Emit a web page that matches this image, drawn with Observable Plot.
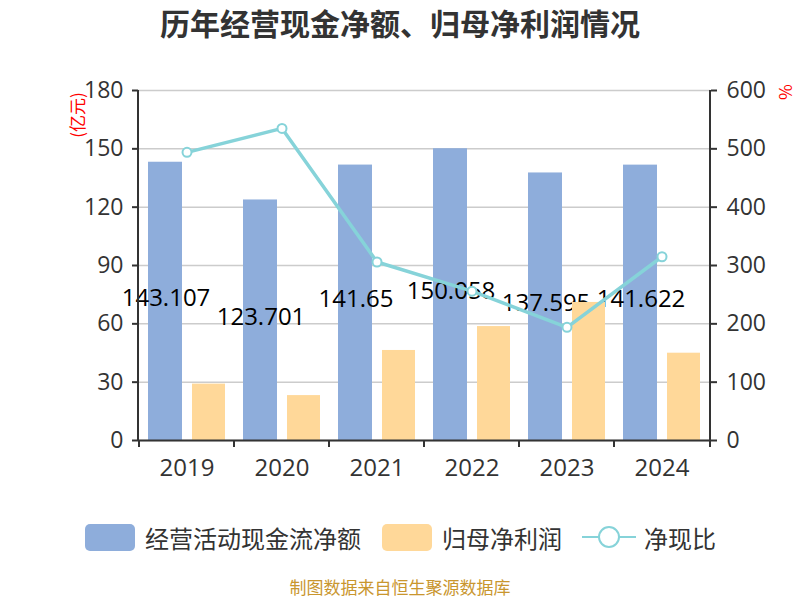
<!DOCTYPE html>
<html>
<head>
<meta charset="utf-8">
<script src="https://cdn.jsdelivr.net/npm/d3@7"></script>
<script src="https://cdn.jsdelivr.net/npm/@observablehq/plot@0.6"></script>
<style>
  body { margin: 0; background: #fff; font-family: "Open Sans", "Noto Sans CJK SC", sans-serif; }
  #wrap { position: relative; width: 800px; height: 600px; overflow: hidden; }
  #title { position: absolute; left: 0; top: 2px; width: 800px; text-align: center; font-size: 30px; font-weight: bold; color: #333; font-family: "Noto Sans CJK SC", sans-serif; line-height: 40px; }
  #chart { position: absolute; left: 0; top: 60px; }
  .leg { position: absolute; top: 522px; height: 30px; display: flex; align-items: center; font-size: 24px; color: #333; font-family: "Noto Sans CJK SC", sans-serif; }
  .sw { width: 50px; height: 27px; border-radius: 5px; margin-right: 10px; }
  .unit { position: absolute; color: #ff0000; font-size: 17px; font-family: "Noto Sans CJK SC", sans-serif; line-height: 19px; white-space: nowrap; }
  #caption { position: absolute; left: 0; top: 577px; width: 800px; text-align: center; font-size: 17px; color: #c9962e; font-family: "Noto Sans CJK SC", sans-serif; line-height: 20px; }
</style>
</head>
<body>
<div id="wrap">
  <div id="title">历年经营现金净额、归母净利润情况</div>
  <div id="chart"></div>
  <div class="unit" style="left:76px; top:115px; transform: translate(-50%,-50%) rotate(-90deg);">(亿元)</div>
  <div class="unit" style="left:786px; top:92px; transform: translate(-50%,-50%) rotate(90deg);">%</div>
  <div class="leg" style="left:85px"><div class="sw" style="background:#8eaddb"></div>经营活动现金流净额</div>
  <div class="leg" style="left:382px"><div class="sw" style="background:#ffd899"></div>归母净利润</div>
  <div class="leg" style="left:580px">
    <svg width="58" height="30" style="margin-right:6px"><line x1="2" y1="15" x2="56" y2="15" stroke="#86d3d9" stroke-width="2"/><circle cx="29" cy="15" r="10" fill="#fff" stroke="#86d3d9" stroke-width="2"/></svg>净现比</div>
  <div id="caption">制图数据来自恒生聚源数据库</div>
</div>
<script>
const years = ["2019", "2020", "2021", "2022", "2023", "2024"];
const cashFlow = [143.107, 123.701, 141.65, 150.058, 137.595, 141.622];
const netProfit = [29.0, 23.1, 46.3, 58.6, 71.0, 44.9];
const cashRatio = [494, 535, 306, 256, 194, 315];
const leftTicks = [0, 30, 60, 90, 120, 150, 180];
const rightTicks = [0, 100, 200, 300, 400, 500, 600];

const leftMax = 180, rightMax = 600;
const data = years.map((year, i) => ({year, cash: cashFlow[i], profit: netProfit[i], ratio: cashRatio[i]}));

const blue = "#8eaddb", orange = "#ffd899", teal = "#86d3d9", axisColor = "#333";
const tickFont = "Open Sans, Noto Sans CJK SC, sans-serif";

const plot = Plot.plot({
  width: 800,
  height: 440,
  marginLeft: 138,
  marginRight: 90,
  marginTop: 30,
  marginBottom: 60,
  style: {fontFamily: tickFont, background: "transparent", overflow: "visible"},
  x: {type: "band", domain: years, padding: 0},
  y: {domain: [0, leftMax]},
  marks: [
    Plot.gridY(leftTicks, {stroke: "#cccccc", strokeOpacity: 1, strokeWidth: 1.5}),
    Plot.barY(data, {x: "year", y: "cash", fill: blue, insetLeft: 9, insetRight: 52}),
    Plot.text(data, {x: "year", y: d => d.cash / 2, text: d => String(d.cash), dx: -21, dy: -3, fontSize: 24, fill: "#000"}),
    Plot.barY(data, {x: "year", y: "profit", fill: orange, insetLeft: 53, insetRight: 9}),
    Plot.line(data, {x: "year", y: d => d.ratio * leftMax / rightMax, stroke: teal, strokeWidth: 3.5}),
    Plot.dot(data, {x: "year", y: d => d.ratio * leftMax / rightMax, r: 4.5, fill: "#fff", stroke: teal, strokeWidth: 2}),
    Plot.axisY(leftTicks, {anchor: "left", tickSize: 6, tickPadding: 9, fontSize: 23, label: null, color: axisColor, stroke: axisColor, strokeWidth: 2}),
    Plot.axisY(leftTicks, {anchor: "right", tickSize: 6, tickPadding: 10, fontSize: 23, label: null, color: axisColor, stroke: axisColor, strokeWidth: 2,
      tickFormat: d => String(Math.round(d * rightMax / leftMax))}),
    Plot.axisX({tickSize: 0, tickPadding: 18, fontSize: 24, label: null, color: axisColor}),
    Plot.ruleY([0], {stroke: axisColor, strokeWidth: 2})
  ]
});

// axis lines and band-boundary ticks, from the plot's own scales
const xs = plot.scale("x"), ys = plot.scale("y");
const svg = d3.select(plot);
const [x0, x1] = xs.range;
const yBottom = ys.apply(0), yTop = ys.apply(leftMax);
const g = svg.append("g").attr("stroke", axisColor).attr("stroke-width", 2);
g.append("line").attr("x1", x0).attr("x2", x0).attr("y1", yTop).attr("y2", yBottom);
g.append("line").attr("x1", x1).attr("x2", x1).attr("y1", yTop).attr("y2", yBottom);
const bounds = years.map(y => xs.apply(y)).concat([x1]);
bounds.forEach(bx => g.append("line").attr("x1", bx).attr("x2", bx).attr("y1", yBottom).attr("y2", yBottom + 7));

document.getElementById("chart").appendChild(plot);
</script>
</body>
</html>
